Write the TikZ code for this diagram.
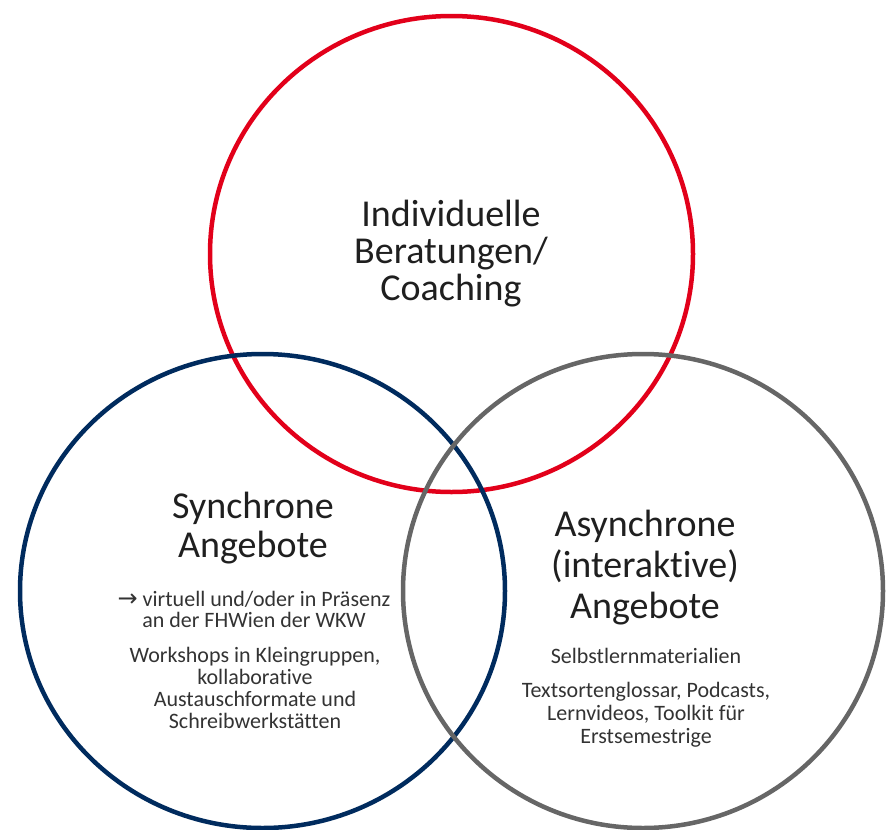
\documentclass[tikz,border=0pt]{standalone}
\usepackage{fontspec}
\setmainfont{Carlito}[Ligatures=NoCommon]
\newfontfamily\arrowfont{DejaVu Sans}
\begin{document}
\begin{tikzpicture}[x=1pt,y=-1pt,
  ring/.style={line width=4.5pt},
  headline/.style={align=center,anchor=base,text=black!88,font=\fontsize{38}{37}\selectfont},
  detail/.style={align=center,anchor=base,text=black!80,font=\fontsize{22}{22}\selectfont}]
  \definecolor{ringred}{HTML}{E2001A}
  \definecolor{ringblue}{HTML}{002B5E}
  \definecolor{ringgray}{HTML}{666666}
  \useasboundingbox (0,0) rectangle (887,830);
  % the three overlapping rings
  \draw[ring,ringred]  (451.5,254) ellipse [x radius=241.5, y radius=238];
  \draw[ring,ringblue] (262.5,591) ellipse [x radius=242.5, y radius=237];
  \draw[ring,ringgray] (643,591)   ellipse [x radius=240, y radius=237];
  % top ring (anchors sit on the last baseline of each block)
  \node[headline] (indiv) at (451,300) {Individuelle\\Beratungen/\\Coaching};
  % left ring
  \node[headline,font=\fontsize{38}{39}\selectfont] (sync) at (253,557) {Synchrone\\Angebote};
  \node[detail,font=\fontsize{22}{21}\selectfont] (syncmode) at (254,627) {{\arrowfont\fontsize{24}{21}\selectfont →} virtuell und/oder in Präsenz\\an der FHWien der WKW};
  \node[detail] (syncformats) at (255,728) {Workshops in Kleingruppen,\\kollaborative\\Austauschformate und\\Schreibwerkstätten};
  % right ring
  \node[headline,font=\fontsize{38}{41}\selectfont] (async) at (645,618) {Asynchrone\\(interaktive)\\Angebote};
  \node[detail] (asyncself) at (646,663) {Selbstlernmaterialien};
  \node[detail,font=\fontsize{22}{23}\selectfont] (asyncmedia) at (646,743) {Textsortenglossar, Podcasts,\\Lernvideos, Toolkit für\\Erstsemestrige};
\end{tikzpicture}
\end{document}
